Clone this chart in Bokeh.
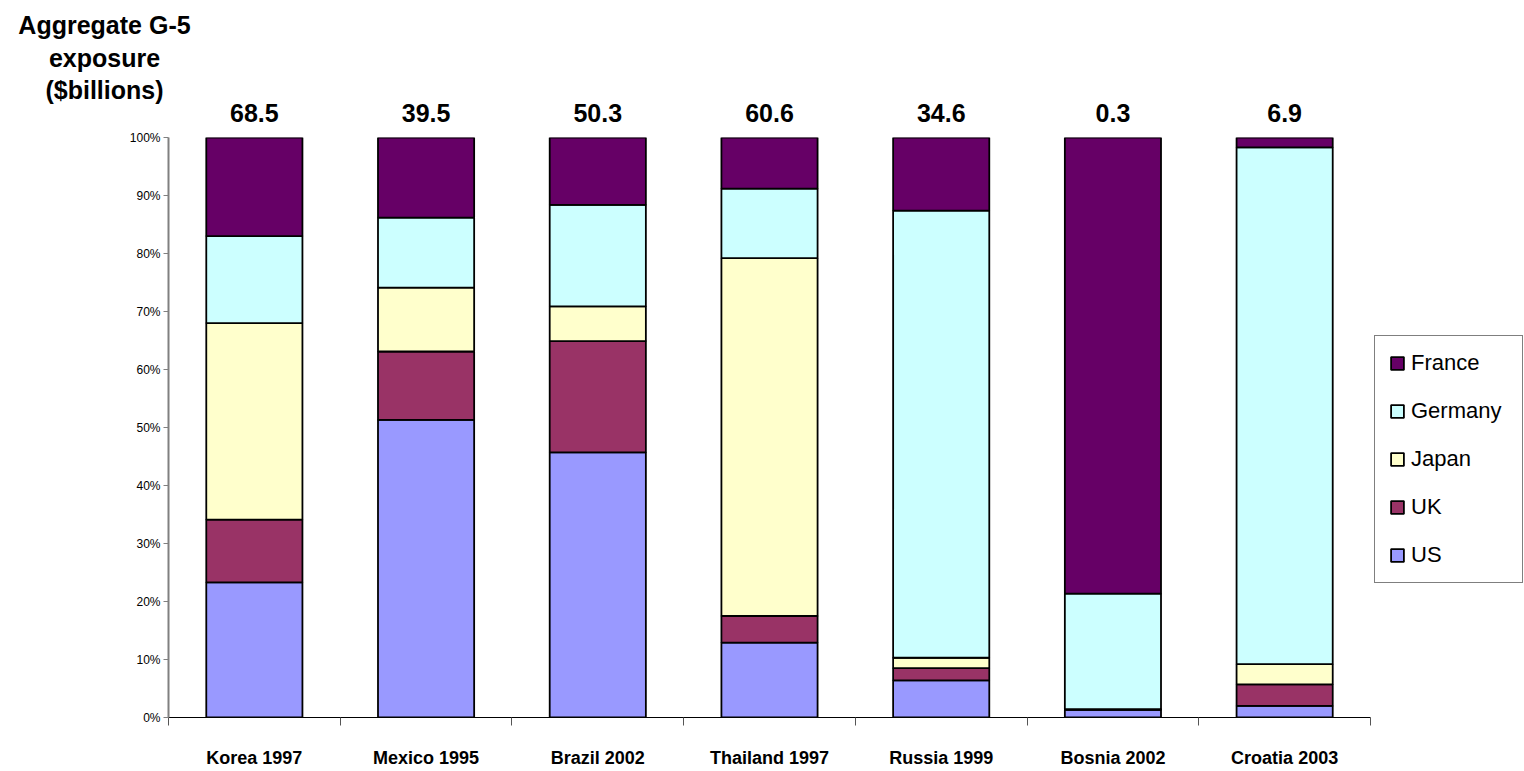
from bokeh.plotting import figure
from bokeh.layouts import column
from bokeh.models import ColumnDataSource, Range1d, FixedTicker, Legend, LegendItem, Label
from bokeh.embed import file_html
from bokeh.resources import INLINE

# Crisis episodes and G-5 bank exposure shares (% of aggregate exposure)
episodes = ["Korea 1997", "Mexico 1995", "Brazil 2002", "Thailand 1997",
            "Russia 1999", "Bosnia 2002", "Croatia 2003"]
us = [23.3, 51.3, 45.7, 12.9, 6.4, 1.3, 2.0]
uk = [10.8, 11.8, 19.2, 4.6, 2.1, 0.1, 3.7]
japan = [33.9, 11.0, 6.0, 61.7, 1.8, 0.05, 3.5]
germany = [15.0, 12.1, 17.5, 12.0, 77.1, 19.9, 89.1]
france = [17.0, 13.8, 11.6, 8.8, 12.6, 78.65, 1.7]
totals = ["68.5", "39.5", "50.3", "60.6", "34.6", "0.3", "6.9"]
heading = ["Aggregate G-5", "exposure", "($billions)"]

series = ["US", "UK", "Japan", "Germany", "France"]
colors = ["#9999FF", "#993366", "#FFFFCC", "#CCFFFF", "#660066"]
pct_ticks = list(range(0, 101, 10))

FONT = "Liberation Sans"
W = 1524
LEFT = 168            # left edge of the plotting area
CAT_W = 1202 / 7      # pixels per category
n = len(episodes)
xs = [i + 0.5 for i in range(n)]
x_lo = -LEFT / CAT_W
x_hi = (W - LEFT) / CAT_W


def bare(fig):
    fig.outline_line_color = None
    fig.xgrid.visible = False
    fig.ygrid.visible = False
    fig.background_fill_color = "white"
    fig.border_fill_color = "white"
    fig.frame_align = False


# ---- header strip: axis heading and aggregate exposure per episode ----
top = figure(width=W, height=128, x_range=Range1d(x_lo, x_hi), y_range=Range1d(128, 0),
             x_axis_type=None, y_axis_type=None, output_backend="svg", toolbar_location=None,
             min_border_left=0, min_border_right=0, min_border_top=0, min_border_bottom=0)
bare(top)

for line, yy in zip(heading, [24, 57, 89]):
    top.add_layout(Label(x=(104 - LEFT) / CAT_W, y=yy, text=line, text_align="center",
                         text_baseline="middle", text_font=FONT, text_font_style="bold",
                         text_font_size="25px", text_color="black"))

for x, t in zip(xs, totals):
    top.add_layout(Label(x=x, y=112, text=t, text_align="center", text_baseline="middle",
                         text_font=FONT, text_font_style="bold", text_font_size="25px",
                         text_color="black"))

# ---- stacked 100% bars ----
source = ColumnDataSource(dict(x=xs, US=us, UK=uk, Japan=japan, Germany=germany, France=france))

p = figure(width=W, height=643, x_range=Range1d(0, x_hi), y_range=Range1d(0, 100),
           output_backend="svg", toolbar_location=None,
           min_border_left=LEFT, min_border_right=0, min_border_top=9, min_border_bottom=54)
bare(p)

renderers = p.vbar_stack(series, x="x", width=0.56, color=colors, source=source,
                         line_color="black", line_width=1.8)

yax = p.yaxis[0]
yax.ticker = FixedTicker(ticks=pct_ticks, minor_ticks=[])
yax.major_label_overrides = {t: f"{t}%" for t in pct_ticks}
yax.axis_line_color = "#808080"
yax.axis_line_width = 2
yax.major_tick_line_color = "#808080"
yax.major_tick_out = 5
yax.major_tick_in = 0
yax.major_label_text_font = FONT
yax.major_label_text_font_size = "12px"
yax.major_label_text_color = "black"
yax.major_label_standoff = 3

xax = p.xaxis[0]
xax.bounds = (0, n)
xax.ticker = FixedTicker(ticks=xs, minor_ticks=list(range(n + 1)))
xax.major_label_overrides = {x: name for x, name in zip(xs, episodes)}
xax.axis_line_color = "black"
xax.axis_line_width = 1
xax.major_tick_out = 0
xax.major_tick_in = 0
xax.minor_tick_out = 8
xax.minor_tick_in = 0
xax.minor_tick_line_color = "#555555"
xax.major_label_text_font = FONT
xax.major_label_text_font_style = "bold"
xax.major_label_text_font_size = "18px"
xax.major_label_text_color = "black"
xax.major_label_standoff = 22

items = [LegendItem(label=name, renderers=[r]) for name, r in zip(series, renderers)]
legend = Legend(items=items[::-1], location=(1206, 134), orientation="vertical",
                border_line_color="black", border_line_width=1,
                background_fill_color="white", background_fill_alpha=1.0,
                label_text_font=FONT, label_text_font_size="22px", label_text_color="black",
                glyph_width=16, glyph_height=16, label_standoff=6,
                label_height=24, label_width=97, spacing=22, padding=14, margin=0)
p.add_layout(legend, "center")

layout = column(top, p, spacing=0)
open("out.html", "w").write(file_html(layout, INLINE))
